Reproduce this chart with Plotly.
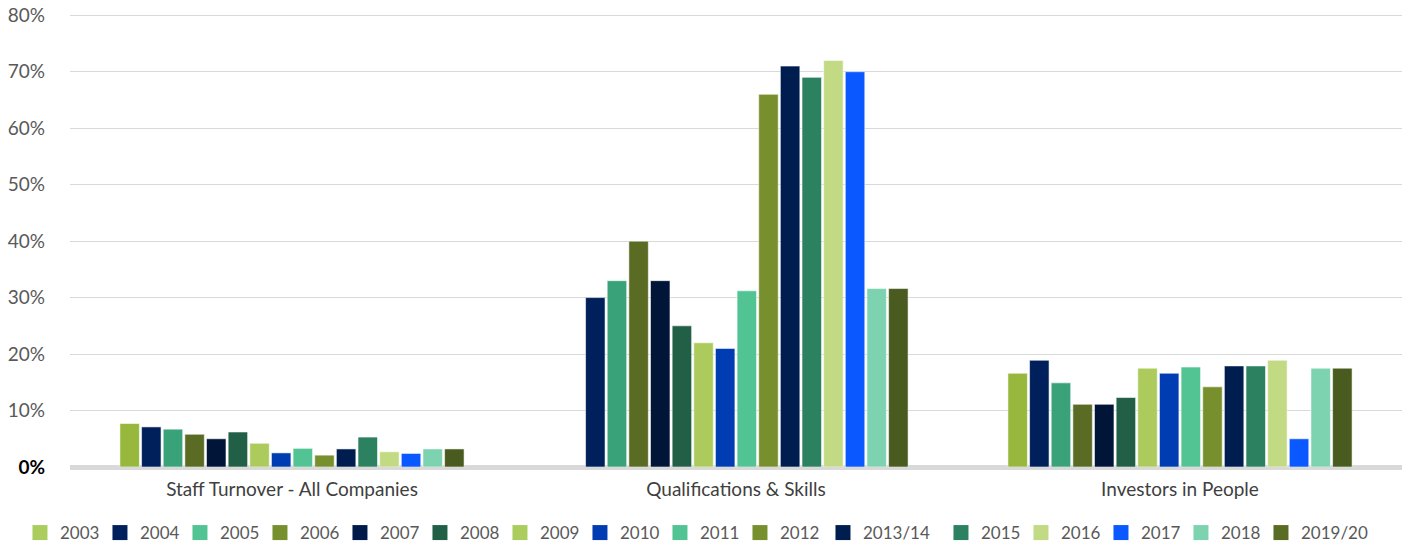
import plotly.graph_objects as go

# -----------------------------------------------------------------------------
# Data
# -----------------------------------------------------------------------------
categories = ["Staff Turnover - All Companies", "Qualifications & Skills", "Investors in People"]
years = ["2003", "2004", "2005", "2006", "2007", "2008", "2009", "2010",
         "2011", "2012", "2013/14", "2015", "2016", "2017", "2018", "2019/20"]

staff_turnover = [7.7, 7.1, 6.7, 5.8, 5.0, 6.2, 4.2, 2.5, 3.3, 2.1, 3.2, 5.3, 2.7, 2.4, 3.2, 3.2]
qualifications = [None, 30, 33, 40, 33, 25, 22, 21, 31.2, 66, 71, 69, 72, 70, 31.6, 31.6]
investors = [16.6, 18.9, 14.9, 11.1, 11.1, 12.3, 17.5, 16.6, 17.7, 14.2, 17.9, 17.9, 18.9, 5.0, 17.5, 17.5]

bar_colors = ["#97B83C", "#00205B", "#3AA278", "#5A6B23", "#001538", "#216047",
              "#ACCB5C", "#003DB3", "#52C393", "#788F2E", "#001D4F", "#2C8260",
              "#C2DA84", "#0A58FF", "#7DD3B0", "#4A5B1F"]
legend_colors = ["#AACD5E", "#00205B", "#52C392", "#77902D", "#001A4A", "#216047",
                 "#AACD5E", "#003DB3", "#52C392", "#77902D", "#001D4F", "#2C8260",
                 "#C2DA84", "#0A58FF", "#7DD3B0", "#5A6B23"]

y_ticks = [0, 10, 20, 30, 40, 50, 60, 70, 80]

# -----------------------------------------------------------------------------
# Figure
# -----------------------------------------------------------------------------
fig = go.Figure()

for i, yr in enumerate(years):
    vals = [staff_turnover[i], qualifications[i], investors[i]]
    fig.add_trace(go.Bar(
        x=categories,
        y=vals,
        name=yr,
        marker=dict(color=bar_colors[i], line=dict(color="rgba(255,255,255,0.55)", width=1)),
        showlegend=False,
    ))

# legend entries (swatch colours as shown in the original legend),
# split across two legends so the single row keeps its spacing
for i, yr in enumerate(years):
    if yr == "2013/14":
        lw = 73
    elif yr == "2019/20":
        lw = 62
    else:
        lw = 35
    fig.add_trace(go.Scatter(
        x=[None], y=[None], mode="markers", name=yr,
        marker=dict(symbol="square", size=15, color=legend_colors[i]),
        legendwidth=lw,
        legend="legend" if i < 10 else "legend2",
    ))

tick_text = ["<b><span style='color:#000000'>0%</span></b>"] + [f"{v}%" for v in y_ticks[1:]]

legend_style = dict(
    orientation="h",
    xref="container",
    yref="container", y=0.0291, yanchor="middle",
    font=dict(size=17, color="#595959"),
    itemwidth=30,
    traceorder="normal",
    bgcolor="rgba(0,0,0,0)",
)

fig.update_layout(
    barmode="group",
    bargap=0.22,
    bargroupgap=0.1,
    width=1416,
    height=549,
    plot_bgcolor="white",
    paper_bgcolor="white",
    font=dict(family="Lato, 'Open Sans', sans-serif", size=17, color="#595959"),
    margin=dict(l=70, r=14, t=13, b=82, autoexpand=False),
    legend=dict(legend_style, x=0.0141),
    legend2=dict(legend_style, x=0.5812),
)

fig.update_xaxes(showgrid=False, showline=False, ticks="", automargin=False,
                 ticklabelstandoff=9, tickfont=dict(size=19, color="#404040"))
fig.update_yaxes(
    range=[0, 80.4],
    tickvals=y_ticks,
    ticktext=tick_text,
    gridcolor="#D9D9D9",
    gridwidth=1,
    zeroline=True,
    zerolinecolor="#D9D9D9",
    zerolinewidth=5,
    automargin=False,
    ticklabeloverflow="allow",
    ticklabelstandoff=24,
    tickfont=dict(size=19, color="#595959"),
)

# drop the default page margin so the figure sits at the window's corner
fig.write_html(
    "out.html",
    config={"displayModeBar": False},
    post_script="document.body.style.margin = '0';",
)
